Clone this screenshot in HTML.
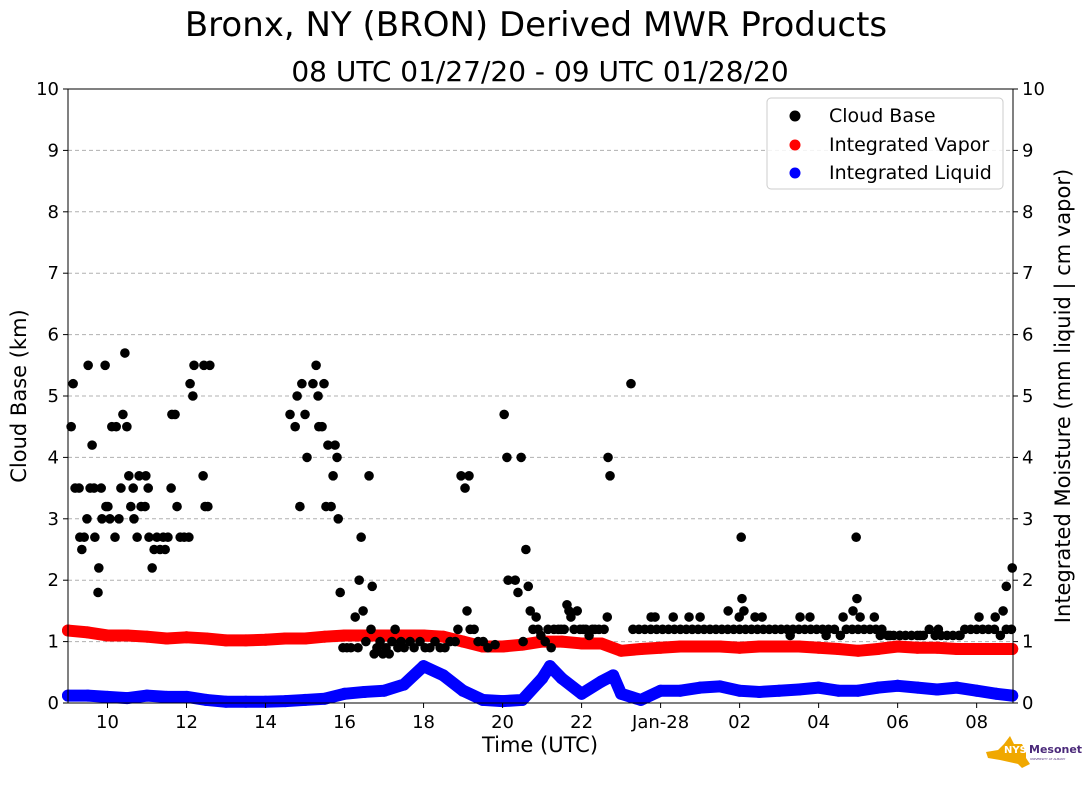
<!DOCTYPE html>
<html><head><meta charset="utf-8"><style>
body{margin:0;background:#fff;width:1089px;height:804px;overflow:hidden;font-family:"Liberation Sans","DejaVu Sans",sans-serif}
svg text{font-family:"DejaVu Sans","Liberation Sans",sans-serif}
</style></head><body>
<svg id="chart" width="1089" height="804">
<text x="536" y="36" font-size="34" text-anchor="middle">Bronx, NY (BRON) Derived MWR Products</text>
<text x="540" y="81" font-size="28" text-anchor="middle">08 UTC 01/27/20 - 09 UTC 01/28/20</text>
<g id="grid"></g><g id="marks"></g><g id="axes"></g>
<g>
<rect x="767" y="98" width="236" height="91" rx="4" fill="#fff" fill-opacity="0.85" stroke="#ccc"/>
<g><circle cx="795" cy="116" r="5.5" fill="#000"/><text x="829" y="122" font-size="19">Cloud Base</text></g>
<g><circle cx="795" cy="145" r="5.5" fill="#f00"/><text x="829" y="151" font-size="19">Integrated Vapor</text></g>
<g><circle cx="795" cy="173" r="5.5" fill="#00f"/><text x="829" y="179" font-size="19">Integrated Liquid</text></g>
</g>
<g>
<path d="M986,752 L998,750 L1004,744 L1010,736 L1014,744 L1022,744 L1026,752 L1026,758 L1030,764 L1022,768 L1018,764 L1000,760 L988,758 Z" fill="#f0a800"/>
<text x="1004" y="753" font-size="10" font-weight="bold" fill="#fff">NYS</text>
<text x="1029" y="753" font-size="11" font-weight="bold" fill="#4b2a7a">Mesonet</text>
<text x="1030" y="760" font-size="3" fill="#4b2a7a">UNIVERSITY AT ALBANY</text>
</g>
</svg>
<script>
const xMin=9.0,xMax=32.92,yMin=0,yMax=10;
const L=68,R=1013,T=89,B=703;
const xTickHours=[10,12,14,16,18,20,22,24,26,28,30,32];
const xTickLabels=["10","12","14","16","18","20","22","Jan-28","02","04","06","08"];
const yTicks=[0,1,2,3,4,5,6,7,8,9,10];
const vaporHours=[9,9.5,10,10.5,11,11.5,12,12.5,13,13.5,14,14.5,15,15.5,16,16.5,17,17.5,18,18.5,19,19.5,20,20.5,21,21.5,22,22.5,23,23.5,24,24.5,25,25.5,26,26.5,27,27.5,28,28.5,29,29.5,30,30.5,31,31.5,32,32.5,32.9];
const vaporValues=[1.18,1.15,1.1,1.1,1.08,1.05,1.07,1.05,1.02,1.02,1.03,1.05,1.05,1.08,1.1,1.1,1.1,1.1,1.1,1.08,1.0,0.92,0.92,0.95,1.0,1.0,0.97,0.97,0.85,0.88,0.9,0.92,0.92,0.92,0.9,0.92,0.92,0.92,0.9,0.88,0.85,0.88,0.92,0.9,0.9,0.88,0.88,0.88,0.88];
const liquidHours=[9,9.5,10,10.5,11,11.5,12,12.5,13,13.5,14,14.5,15,15.5,16,16.5,17,17.5,18,18.5,19,19.5,20,20.5,21,21.2,21.5,22,22.5,22.8,23,23.5,24,24.5,25,25.5,26,26.5,27,27.5,28,28.5,29,29.5,30,30.5,31,31.5,32,32.5,32.9];
const liquidValues=[0.12,0.12,0.1,0.08,0.12,0.1,0.1,0.05,0.02,0.02,0.02,0.03,0.05,0.07,0.15,0.18,0.2,0.3,0.6,0.45,0.2,0.05,0.03,0.05,0.4,0.6,0.4,0.15,0.35,0.45,0.15,0.05,0.2,0.2,0.25,0.27,0.2,0.18,0.2,0.22,0.25,0.2,0.2,0.25,0.28,0.25,0.22,0.25,0.2,0.15,0.12];
const cloudHours=[9.08,9.13,9.18,9.28,9.30,9.35,9.41,9.48,9.51,9.56,9.61,9.66,9.68,9.76,9.78,9.84,9.86,9.94,9.96,10.01,10.06,10.11,10.19,10.22,10.29,10.34,10.39,10.44,10.49,10.54,10.59,10.65,10.67,10.75,10.80,10.85,10.95,10.97,11.03,11.05,11.13,11.18,11.25,11.33,11.41,11.46,11.53,11.61,11.63,11.71,11.76,11.84,11.94,12.06,12.09,12.16,12.19,12.42,12.44,12.47,12.54,12.59,
14.62,14.75,14.80,14.87,14.92,15.00,15.05,15.20,15.28,15.33,15.35,15.43,15.48,15.53,15.58,15.66,15.71,15.76,15.81,15.84,15.89,15.96,16.06,16.16,16.27,16.34,16.37,16.42,16.47,16.54,16.62,16.67,16.70,16.75,16.82,16.90,16.97,17.05,17.13,17.20,17.28,17.35,17.43,17.51,17.66,17.76,17.91,18.04,18.16,18.29,18.42,18.54,18.67,18.80,18.87,18.95,19.05,19.10,19.15,19.18,19.28,19.38,19.51,19.63,19.81,20.04,20.11,20.14,20.32,20.39,20.47,20.52,20.59,20.65,20.70,20.77,20.85,20.90,20.97,21.08,21.15,21.23,21.30,21.41,21.48,21.56,21.63,21.68,21.73,21.81,21.89,21.96,22.04,22.11,22.19,22.27,22.34,22.44,22.57,22.65,22.67,22.72,23.25,
23.76,23.86,24.32,24.72,25.0,25.71,25.99,26.04,26.06,26.11,26.39,26.57,27.28,27.53,27.78,28.19,28.62,28.87,28.95,28.97,29.05,29.41,29.56,29.81,30.06,30.57,31.03,31.58,32.06,32.47,32.67,32.75,32.90,
23.3,23.45,23.6,23.75,23.9,24.05,24.2,24.35,24.5,24.65,24.8,24.95,25.1,25.25,25.4,25.55,25.7,25.85,26.0,26.15,26.3,26.45,26.6,26.75,26.9,27.05,27.2,27.35,27.5,27.65,27.8,27.95,28.1,28.25,28.4,28.55,28.7,28.85,29.0,29.15,29.3,29.45,29.6,29.75,29.9,30.05,30.2,30.35,30.5,30.65,30.8,30.95,31.1,31.25,31.4,31.55,31.7,31.85,32.0,32.15,32.3,32.45,32.6,32.75,32.88];
const cloudValues=[4.5,5.2,3.5,3.5,2.7,2.5,2.7,3.0,5.5,3.5,4.2,3.5,2.7,1.8,2.2,3.5,3.0,5.5,3.2,3.2,3.0,4.5,2.7,4.5,3.0,3.5,4.7,5.7,4.5,3.7,3.2,3.5,3.0,2.7,3.7,3.2,3.2,3.7,3.5,2.7,2.2,2.5,2.7,2.5,2.7,2.5,2.7,3.5,4.7,4.7,3.2,2.7,2.7,2.7,5.2,5.0,5.5,3.7,5.5,3.2,3.2,5.5,
4.7,4.5,5.0,3.2,5.2,4.7,4.0,5.2,5.5,5.0,4.5,4.5,5.2,3.2,4.2,3.2,3.7,4.2,4.0,3.0,1.8,0.9,0.9,0.9,1.4,0.9,2.0,2.7,1.5,1.0,3.7,1.2,1.9,0.8,0.9,1.0,0.8,0.9,0.8,1.0,1.2,0.9,1.0,0.9,1.0,0.9,1.0,0.9,0.9,1.0,0.9,0.9,1.0,1.0,1.2,3.7,3.5,1.5,3.7,1.2,1.2,1.0,1.0,0.9,0.95,4.7,4.0,2.0,2.0,1.8,4.0,1.0,2.5,1.9,1.5,1.2,1.4,1.2,1.1,1.0,1.2,0.9,1.2,1.2,1.2,1.2,1.6,1.5,1.4,1.2,1.5,1.2,1.2,1.2,1.1,1.2,1.2,1.2,1.2,1.4,4.0,3.7,5.2,
1.4,1.4,1.4,1.4,1.4,1.5,1.4,2.7,1.7,1.5,1.4,1.4,1.1,1.4,1.4,1.1,1.4,1.5,2.7,1.7,1.4,1.4,1.1,1.1,1.1,1.1,1.2,1.1,1.4,1.4,1.5,1.9,2.2,
1.2,1.2,1.2,1.2,1.2,1.2,1.2,1.2,1.2,1.2,1.2,1.2,1.2,1.2,1.2,1.2,1.2,1.2,1.2,1.2,1.2,1.2,1.2,1.2,1.2,1.2,1.2,1.2,1.2,1.2,1.2,1.2,1.2,1.2,1.2,1.1,1.2,1.2,1.2,1.2,1.2,1.2,1.2,1.1,1.1,1.1,1.1,1.1,1.1,1.1,1.2,1.1,1.1,1.1,1.1,1.1,1.2,1.2,1.2,1.2,1.2,1.2,1.1,1.2,1.2];
const NS="http://www.w3.org/2000/svg";
const xs=h=>L+(h-xMin)/(xMax-xMin)*(R-L);
const ys=v=>B-(v-yMin)/(yMax-yMin)*(B-T);
function mk(tag,attrs,parent){const e=document.createElementNS(NS,tag);for(const k in attrs)e.setAttribute(k,attrs[k]);parent.appendChild(e);return e;}
const grid=document.getElementById('grid'),marks=document.getElementById('marks'),axes=document.getElementById('axes');
yTicks.forEach(v=>{
 if(v>0&&v<10){const g=mk('line',{x1:L,x2:R,y1:ys(v),y2:ys(v),stroke:'#b0b0b0','stroke-dasharray':'4,3','stroke-width':1},grid);
 
 }
 mk('line',{x1:L-5,x2:L,y1:ys(v),y2:ys(v),stroke:'#000'},axes);
 mk('line',{x1:R,x2:R+5,y1:ys(v),y2:ys(v),stroke:'#000'},axes);
 const t1=mk('text',{x:L-9,y:ys(v)+6,'font-size':18,'text-anchor':'end'},axes);t1.textContent=v;
 
 
 const t2=mk('text',{x:R+9,y:ys(v)+6,'font-size':18},axes);t2.textContent=v;
 
 
});
xTickHours.forEach((h,i)=>{
 mk('line',{x1:xs(h),x2:xs(h),y1:B,y2:B+5,stroke:'#000'},axes);
 const t=mk('text',{x:xs(h),y:B+25,'font-size':18,'text-anchor':'middle'},axes);t.textContent=xTickLabels[i];
 
 
});
function series(hs,vs,color,name){
 const pts=hs.map((h,i)=>xs(h)+','+ys(vs[i])).join(' ');
 const pl=mk('polyline',{points:pts,fill:'none',stroke:color,'stroke-width':12,'stroke-linecap':'round','stroke-linejoin':'round'},marks);
 
 
 hs.forEach((h,i)=>{const c=mk('circle',{cx:xs(h),cy:ys(vs[i]),r:6,fill:color},marks);
 
 });
}
series(vaporHours,vaporValues,'#f00','integrated-vapor');
series(liquidHours,liquidValues,'#00f','integrated-liquid');
cloudHours.forEach((h,i)=>{const c=mk('circle',{cx:xs(h),cy:ys(cloudValues[i]),r:4.8,fill:'#000'},marks);
 
 });
const fr=mk('rect',{x:L,y:T,width:R-L,height:B-T,fill:'none',stroke:'#000','stroke-width':1},axes);


const xl=mk('text',{x:540,y:752,'font-size':21,'text-anchor':'middle'},axes);xl.textContent='Time (UTC)';


const yl=mk('text',{x:0,y:0,'font-size':21,'text-anchor':'middle',transform:'translate(26,396) rotate(-90)'},axes);yl.textContent='Cloud Base (km)';


const yr=mk('text',{x:0,y:0,'font-size':21,'text-anchor':'middle',transform:'translate(1070,396) rotate(-90)'},axes);yr.textContent='Integrated Moisture (mm liquid | cm vapor)';


</script>
</body></html>
